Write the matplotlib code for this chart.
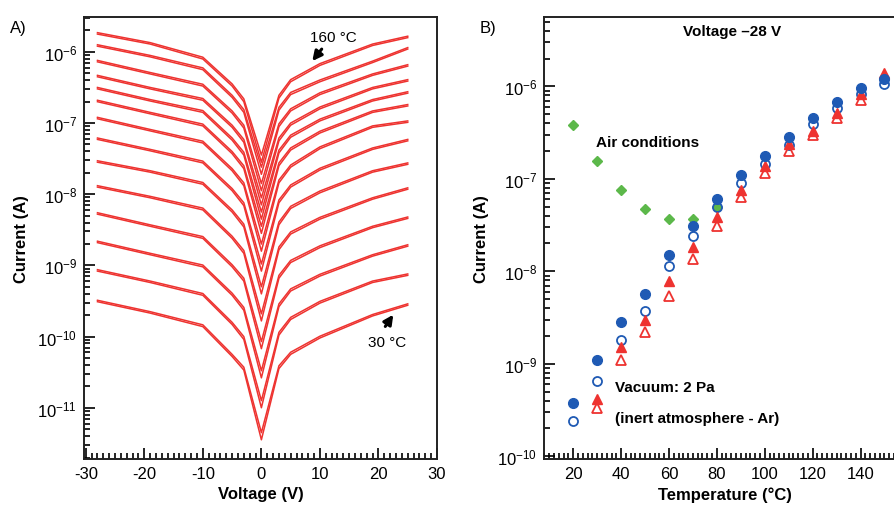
import matplotlib
matplotlib.use("Agg")
import matplotlib.pyplot as plt
import numpy as np
from matplotlib.ticker import MultipleLocator, LogLocator, LogFormatterSciNotation, NullFormatter, FixedLocator

plt.rcParams['font.family'] = ['Liberation Sans', 'DejaVu Sans']
plt.rcParams['axes.unicode_minus'] = False

# ---- panel A: I-V sweeps, log10(I) ----
temps_a = [160, 150, 140, 130, 120, 110, 100, 90, 80, 70, 60, 50, 40, 30]
volts = [-28, -19, -10, -5, -3, 0, 3, 5, 10, 19, 25]
iv_log = [
    [-5.75, -5.89, -6.10, -6.48, -6.70, -7.55, -6.65, -6.42, -6.19, -5.91, -5.80],
    [-5.92, -6.07, -6.25, -6.64, -6.85, -7.72, -6.82, -6.60, -6.42, -6.15, -5.96],
    [-6.14, -6.31, -6.48, -6.86, -7.07, -7.95, -7.05, -6.83, -6.60, -6.33, -6.20],
    [-6.35, -6.52, -6.68, -7.06, -7.27, -8.15, -7.25, -7.03, -6.80, -6.52, -6.41],
    [-6.52, -6.69, -6.85, -7.24, -7.45, -8.35, -7.42, -7.20, -6.97, -6.69, -6.58],
    [-6.70, -6.87, -7.04, -7.43, -7.64, -8.55, -7.60, -7.38, -7.14, -6.85, -6.76],
    [-6.94, -7.11, -7.28, -7.67, -7.88, -8.80, -7.84, -7.62, -7.36, -7.06, -6.99],
    [-7.23, -7.39, -7.56, -7.95, -8.16, -9.08, -8.12, -7.90, -7.66, -7.37, -7.25],
    [-7.55, -7.69, -7.86, -8.25, -8.46, -9.40, -8.43, -8.20, -7.98, -7.69, -7.58],
    [-7.90, -8.05, -8.22, -8.62, -8.83, -9.78, -8.78, -8.56, -8.35, -8.07, -7.93],
    [-8.28, -8.45, -8.62, -9.02, -9.22, -10.17, -9.18, -8.96, -8.75, -8.47, -8.34],
    [-8.68, -8.85, -9.02, -9.42, -9.63, -10.58, -9.58, -9.36, -9.15, -8.87, -8.73],
    [-9.08, -9.24, -9.42, -9.83, -10.04, -11.00, -9.98, -9.76, -9.53, -9.24, -9.14],
    [-9.51, -9.67, -9.86, -10.28, -10.47, -11.45, -10.45, -10.25, -10.02, -9.71, -9.56],
]
# gap between forward and return sweep (decades)
sweep_gap = [0.02, 0.02, 0.025, 0.03, 0.04, 0.10, 0.04, 0.03, 0.025, 0.02, 0.02]

# ---- panel B: current at -28 V vs temperature ----
t_air = [20, 30, 40, 50, 60, 70, 80]
i_air = [3.8e-7, 1.55e-7, 7.5e-8, 4.7e-8, 3.7e-8, 3.7e-8, 4.9e-8]
t_blue = [20, 30, 40, 50, 60, 70, 80, 90, 100, 110, 120, 130, 140, 150]
i_blue_fill = [3.8e-10, 1.1e-9, 2.8e-9, 5.7e-9, 1.5e-8, 3.1e-8, 6.0e-8, 1.1e-7, 1.75e-7,
               2.8e-7, 4.6e-7, 6.8e-7, 9.5e-7, 1.2e-6]
i_blue_open = [2.4e-10, 6.5e-10, 1.8e-9, 3.7e-9, 1.13e-8, 2.4e-8, 4.9e-8, 9.0e-8, 1.45e-7,
               2.35e-7, 3.9e-7, 5.9e-7, 8.2e-7, 1.05e-6]
t_red_fill = [30, 40, 50, 60, 70, 80, 90, 100, 110, 120, 130, 140, 150]
i_red_fill = [4.2e-10, 1.5e-9, 3.0e-9, 7.8e-9, 1.85e-8, 3.9e-8, 7.5e-8, 1.38e-7, 2.4e-7,
              3.3e-7, 5.2e-7, 8.2e-7, 1.4e-6]
t_red_open = [30, 40, 50, 60, 70, 80, 90, 100, 110, 120, 130, 140]
i_red_open = [3.3e-10, 1.1e-9, 2.2e-9, 5.4e-9, 1.35e-8, 3.1e-8, 6.3e-8, 1.17e-7, 2.0e-7,
              3.0e-7, 4.5e-7, 7.2e-7]

RED = '#ee3330'
BLUE = '#1f5ab4'
GREEN = '#5cb84a'

fig = plt.figure(figsize=(8.94, 5.06), dpi=100)
axA = fig.add_axes([84/894, 46/506, 353/894, 442/506])
axB = fig.add_axes([544/894, 46/506, 362/894, 442/506])

# panel A
for row in iv_log:
    fwd = 10.0 ** np.array(row)
    back = 10.0 ** (np.array(row) + np.array(sweep_gap))
    axA.plot(volts, fwd, color=RED, lw=1.1)
    axA.plot(volts, back, color=RED, lw=1.1)

axA.set_yscale('log')
axA.set_xlim(-30.3, 30)
axA.set_ylim(10**-11.72, 10**-5.51)
axA.xaxis.set_major_locator(MultipleLocator(10))
axA.xaxis.set_minor_locator(MultipleLocator(1))
axA.set_xlabel('Voltage (V)', fontsize=12, fontweight='bold', labelpad=4)
axA.set_ylabel('Current (A)', fontsize=12, fontweight='bold', labelpad=6)

axA.text(8.3, 10**-5.79, '160 °C', fontsize=11, va='center', ha='left')
axA.annotate('', xy=(8.4, 10**-6.16), xytext=(10.6, 10**-5.93),
             arrowprops=dict(arrowstyle='-|>', color='black', lw=2.2, mutation_scale=14))
axA.text(18.2, 10**-10.07, '30 °C', fontsize=11, va='center', ha='left')
axA.annotate('', xy=(22.8, 10**-9.66), xytext=(20.9, 10**-9.89),
             arrowprops=dict(arrowstyle='-|>', color='black', lw=2.2, mutation_scale=14))

# panel B
axB.plot(t_air, i_air, 'D', color=GREEN, ms=5.5, mec=GREEN, zorder=3)
axB.plot(t_blue, i_blue_open, 'o', mfc='none', mec=BLUE, mew=1.3, ms=6.5, zorder=4)
axB.plot(t_red_open, i_red_open, '^', mfc='none', mec=RED, mew=1.3, ms=6.5, zorder=4)
axB.plot(t_red_fill, i_red_fill, '^', color=RED, ms=7, zorder=5)
axB.plot(t_blue, i_blue_fill, 'o', color=BLUE, ms=7, zorder=6)

axB.set_yscale('log')
axB.set_xlim(7.8, 159)
axB.set_ylim(10**-10.03, 10**-5.25)
axB.xaxis.set_major_locator(FixedLocator([20, 40, 60, 80, 100, 120, 140]))
axB.xaxis.set_minor_locator(MultipleLocator(2))
axB.set_xlabel('Temperature (°C)', fontsize=12, fontweight='bold', labelpad=4)
axB.set_ylabel('Current (A)', fontsize=12, fontweight='bold', labelpad=6)

axB.text(86.5, 10**-5.405, 'Voltage \u201328 V', fontsize=11, fontweight='bold', ha='center', va='center')
axB.text(29.7, 10**-6.605, 'Air conditions', fontsize=11, fontweight='bold', ha='left', va='center')
axB.text(37.3, 10**-9.25, 'Vacuum: 2 Pa', fontsize=11, fontweight='bold', ha='left', va='center')
axB.text(37.3, 10**-9.59, '(inert atmosphere - Ar)', fontsize=11, fontweight='bold', ha='left', va='center')

for ax in (axA, axB):
    ax.yaxis.set_major_locator(LogLocator(base=10, numticks=20))
    ax.yaxis.set_minor_locator(LogLocator(base=10, subs=np.arange(2, 10), numticks=20))
    ax.yaxis.set_major_formatter(LogFormatterSciNotation())
    ax.yaxis.set_minor_formatter(NullFormatter())
    ax.tick_params(which='both', direction='in', labelsize=12, width=1.2)
    ax.tick_params(which='major', length=8, pad=5)
    ax.tick_params(which='minor', length=4)
    ax.tick_params(top=False, right=False, which='both')
    for s in ax.spines.values():
        s.set_linewidth(1.4)
        s.set_color('#222222')

fig.text(10/894, 1 - 28/506, 'A)', fontsize=12, va='center')
fig.text(480/894, 1 - 28/506, 'B)', fontsize=12, va='center')

fig.savefig('out.png', dpi=100)
